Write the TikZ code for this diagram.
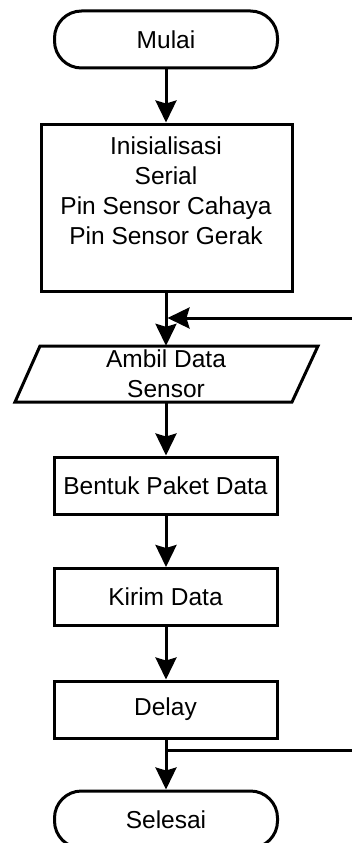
\documentclass[tikz,border=0pt]{standalone}
\usepackage{fontspec}
\setmainfont{Liberation Sans}
\usetikzlibrary{arrows.meta}
\begin{document}
\begin{tikzpicture}[x=1pt,y=-1pt,
  every node/.style={font=\fontsize{24.5}{30}\selectfont},
  base/.style={draw, line width=3pt, align=center, inner sep=0pt},
  term/.style={base, rounded corners=27pt, minimum width=223pt, minimum height=57pt},
  proc/.style={base, minimum width=223pt, minimum height=57pt},
  txt/.style={align=center, inner sep=0pt},
  flow/.style={line width=3pt, -{Stealth[length=22pt,width=21pt,inset=3pt]}},
  plain/.style={line width=3pt}]
\useasboundingbox (0,0) rectangle (352,843);
\clip (0,0) rectangle (352,843);
\node[term] (mulai) at (166,39.5) {Mulai};
\node[proc, minimum width=251pt, minimum height=167pt] (init) at (166.5,207.5) {};
\node[txt] (inittxt) at (166,190.5) {Inisialisasi\\Serial\\Pin Sensor Cahaya\\Pin Sensor Gerak};
\node[txt, minimum width=278pt, minimum height=56pt] (ambil) at (166,374) {Ambil Data\\Sensor};
\draw[plain, line join=miter] (40,346) -- (318,346) -- (292,402) -- (15,402) -- cycle;
\node[proc] (bentuk) at (165.5,485.5) {Bentuk Paket Data};
\node[proc] (kirim) at (165.5,597) {Kirim Data};
\node[proc] (delay) at (165.5,709.5) {Delay};
\node[term] (selesai) at (166,819.5) {Selesai};
\coordinate (j1) at (167.5,318);
\coordinate (r1) at (352,318);
\coordinate (j2) at (166,750);
\coordinate (r2) at (352,750);
\draw[flow] (mulai.south) -- (mulai.south |- init.north);
\draw[flow] (mulai.south |- init.south) -- (mulai.south |- ambil.north);
\draw[flow] (r1) -- (j1);
\draw[flow] (mulai.south |- ambil.south) -- (mulai.south |- bentuk.north);
\draw[flow] (mulai.south |- bentuk.south) -- (mulai.south |- kirim.north);
\draw[flow] (mulai.south |- kirim.south) -- (mulai.south |- delay.north);
\draw[flow] (mulai.south |- delay.south) -- (mulai.south |- selesai.north);
\draw[plain] (j2) -- (r2);
\end{tikzpicture}
\end{document}
